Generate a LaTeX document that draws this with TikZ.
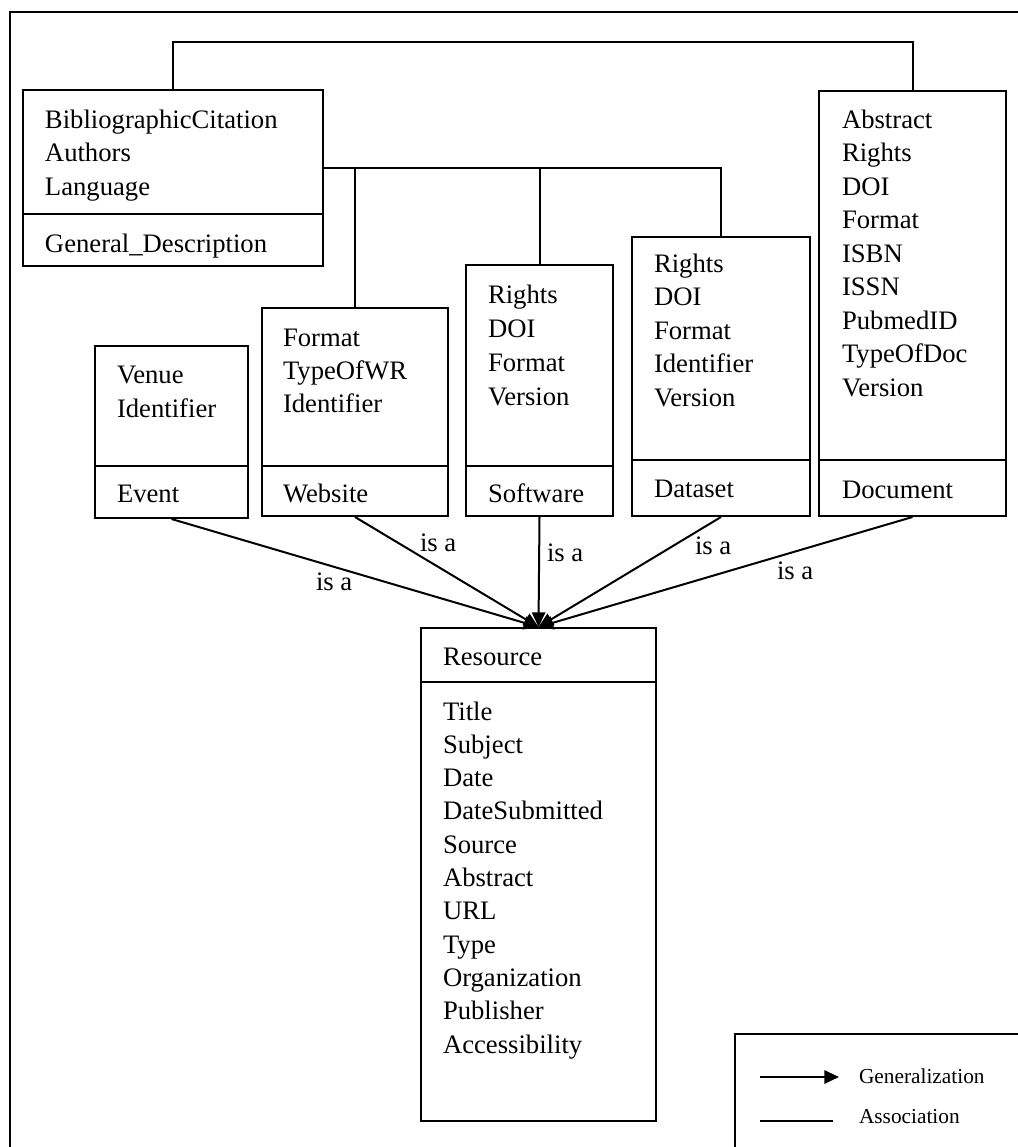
\documentclass[tikz,border=0pt]{standalone}
\usepackage{fontspec}
\setmainfont{Liberation Serif}
\usetikzlibrary{arrows.meta,fit}
\begin{document}
\begin{tikzpicture}[x=0.75pt,y=-0.75pt,
  line width=1.5pt,
  classbox/.style={draw,rectangle,inner sep=0pt},
  attr/.style={anchor=base west,inner sep=0pt,font=\fontsize{20}{24}\selectfont},
  isa/.style={anchor=base west,inner sep=0pt,font=\fontsize{20}{24}\selectfont},
  legtext/.style={anchor=base west,inner sep=0pt,font=\fontsize{16}{19}\selectfont},
  gen/.style={-{Triangle[length=11pt,width=10pt]}},
  assoc/.style={line cap=rect}]
\useasboundingbox (0,0) rectangle (1018,1147);
\clip (0,0) rectangle (1018,1147);

% outer frame
\draw (10,1170) -- (10,12) -- (1040,12);

% class boxes
\node[classbox,fit={(23,90) (323,266)}] (bib) {};
\node[classbox,fit={(819,91) (1006,516)}] (doc) {};
\node[classbox,fit={(632,237) (810,516)}] (dat) {};
\node[classbox,fit={(466,265) (613,516)}] (sw) {};
\node[classbox,fit={(262,308) (448,516)}] (web) {};
\node[classbox,fit={(95,346) (248,518)}] (evt) {};
\node[classbox,fit={(421,628) (656,1121)}] (res) {};

% compartment dividers
\draw (23,214) -- (323,214);
\draw (819,460) -- (1006,460);
\draw (632,460) -- (810,460);
\draw (466,466) -- (613,466);
\draw (262,466) -- (448,466);
\draw (95,466) -- (248,466);
\draw (421,682) -- (656,682);

% texts: BibliographicCitation box
\node[attr] (bib1) at (44,128) {BibliographicCitation};
\node[attr] (bib2) at (44,161.5) {Authors};
\node[attr] (bib3) at (44,195) {Language};
\node[attr] (bibn) at (44,252) {General\_Description};

% Document
\node[attr] (doc1) at (841,128) {Abstract};
\node[attr] (doc2) at (841,161.5) {Rights};
\node[attr] (doc3) at (841,195) {DOI};
\node[attr] (doc4) at (841,228.5) {Format};
\node[attr] (doc5) at (841,262) {ISBN};
\node[attr] (doc6) at (841,295.5) {ISSN};
\node[attr] (doc7) at (841,329) {PubmedID};
\node[attr] (doc8) at (841,362.5) {TypeOfDoc};
\node[attr] (doc9) at (841,396) {Version};
\node[attr] (docn) at (841,498) {Document};

% Dataset
\node[attr] (dat1) at (653,272) {Rights};
\node[attr] (dat2) at (653,305.5) {DOI};
\node[attr] (dat3) at (653,339) {Format};
\node[attr] (dat4) at (653,372.5) {Identifier};
\node[attr] (dat5) at (653,406) {Version};
\node[attr] (datn) at (653,497) {Dataset};

% Software
\node[attr] (sw1) at (487,303) {Rights};
\node[attr] (sw2) at (487,337) {DOI};
\node[attr] (sw3) at (487,371) {Format};
\node[attr] (sw4) at (487,405) {Version};
\node[attr] (swn) at (487,502) {Software};

% Website
\node[attr] (web1) at (282,346) {Format};
\node[attr] (web2) at (282,379) {TypeOfWR};
\node[attr] (web3) at (282,412) {Identifier};
\node[attr] (webn) at (282,502) {Website};

% Event
\node[attr] (evt1) at (116,383) {Venue};
\node[attr] (evt2) at (116,417) {Identifier};
\node[attr] (evtn) at (116,502) {Event};

% Resource
\node[attr] (resn) at (442,665) {Resource};
\node[attr] (res1) at (442,720) {Title};
\node[attr] (res2) at (442,753.3) {Subject};
\node[attr] (res3) at (442,786.6) {Date};
\node[attr] (res4) at (442,819.9) {DateSubmitted};
\node[attr] (res5) at (442,853.2) {Source};
\node[attr] (res6) at (442,886.5) {Abstract};
\node[attr] (res7) at (442,919.8) {URL};
\node[attr] (res8) at (442,953.1) {Type};
\node[attr] (res9) at (442,986.4) {Organization};
\node[attr] (res10) at (442,1019.7) {Publisher};
\node[attr] (res11) at (442,1053) {Accessibility};

% associations
\coordinate (topbus) at (0,42);
\coordinate (midbus) at (0,168);
\draw[assoc] (bib.north) -- (bib.north |- topbus) -- (doc.north |- topbus) -- (doc.north);
\draw[assoc] (bib.east |- midbus) -- (dat.north |- midbus) -- (dat.north);
\draw (web.north |- midbus) -- (web.north);
\draw (sw.north |- midbus) -- (sw.north);

% generalizations
\draw[gen] (evt.south) -- (res.north);
\draw[gen] (web.south) -- (res.north);
\draw[gen] (sw.south) -- (res.north);
\draw[gen] (dat.south) -- (res.north);
\draw[gen] (doc.south) -- (res.north);

\node[isa] (isa1) at (315,590) {is a};
\node[isa] (isa2) at (419,551) {is a};
\node[isa] (isa3) at (546,561) {is a};
\node[isa] (isa4) at (694,554) {is a};
\node[isa] (isa5) at (776,579) {is a};

% legend
\draw[line width=1pt] (1040,1034) -- (735,1034) -- (735,1170);
\coordinate (lg1a) at (760,1077);
\coordinate (lg1b) at (839,1077);
\coordinate (lg2a) at (760,1121);
\coordinate (lg2b) at (833,1121);
\draw[gen] (lg1a) -- (lg1b);
\draw (lg2a) -- (lg2b);
\node[legtext] (leg1) at (858,1083) {Generalization};
\node[legtext] (leg2) at (858,1123) {Association};
\end{tikzpicture}
\end{document}
